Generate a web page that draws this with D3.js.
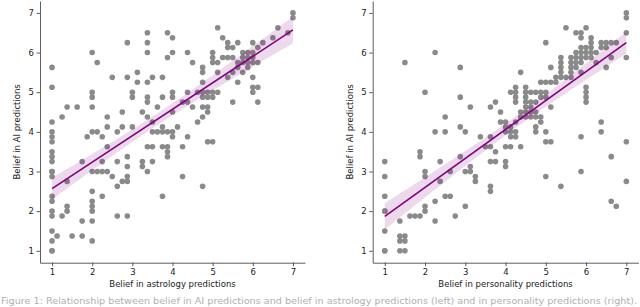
<!DOCTYPE html>
<html>
<head>
<meta charset="utf-8">
<script src="https://cdn.jsdelivr.net/npm/d3@7"></script>
<style>
  body { margin: 0; background: #fff; }
  text { font-family: "DejaVu Sans", sans-serif; }
</style>
</head>
<body>
<svg id="chart" width="640" height="307"></svg>
<script>
// belief in astrology predictions (x) vs belief in AI predictions (y)
const astrologyPoints = [
  [1,5.625],[1,5.125],[1,4.25],[1,4],[1,3.875],[1,3.75],[1,3.5],[1,3.375],[1,3.25],[1,3],[1,3],[1,2.875],[1,2.375],[1,2.25],[1,2],[1,1.875],[1,1.5],[1,1.25],[1,1],[1,1],
  [1.125,1.375],[1.25,4.375],[1.25,1.875],[1.375,4.625],[1.375,2.75],[1.375,2.125],[1.375,2],[1.5,1.375],[1.625,4.625],[1.75,3.25],[1.75,1.75],[1.75,1.375],[1.875,3.875],
  [2,6],[2,5],[2,4.875],[2,4.625],[2,4],[2,3],[2,2.5],[2,2.25],[2,2.125],[2,2],[2,1.75],[2,1.25],
  [2.125,5.75],[2.125,4],[2.125,3],[2.25,3.875],[2.25,3.25],[2.25,3],[2.25,2.375],[2.375,4.375],[2.375,4.125],[2.375,3.625],[2.375,3],
  [2.5,5.375],[2.5,2.875],[2.625,4],[2.625,3.25],[2.625,2.625],[2.625,1.875],[2.75,4.5],[2.75,4.125],[2.75,2.75],
  [2.875,6.25],[2.875,5.375],[2.875,3.375],[2.875,3.125],[2.875,2.875],[2.875,2.75],[2.875,1.875],
  [3,5],[3,4.875],[3,4.125],[3.125,5.5],[3.125,5.25],[3.25,4.5],[3.25,3.25],[3.25,3.125],
  [3.375,6.5],[3.375,6.25],[3.375,6],[3.375,5.25],[3.375,4.875],[3.375,4.75],[3.375,4.375],[3.375,3.625],[3.375,3],
  [3.5,5.375],[3.5,4.25],[3.5,4],[3.5,3.625],[3.5,3.25],[3.625,4.625],[3.625,4],
  [3.75,5.375],[3.75,4.875],[3.75,4.125],[3.75,4],[3.75,3.625],[3.75,2.375],
  [3.875,6.5],[3.875,5.875],[3.875,4],[3.875,3.625],[3.875,3.5],[3.875,3.375],
  [4,6.375],[4,6],[4,5],[4,4.875],[4,4.5],[4,4],[4,3.875],[4.125,4.125],
  [4.25,4.75],[4.25,3.625],[4.25,2.875],[4.375,6],[4.375,5],[4.375,4.75],[4.375,3.875],[4.5,5.75],[4.5,4.625],[4.625,5],[4.625,4.25],
  [4.75,5.625],[4.75,5.5],[4.75,5.25],[4.75,5],[4.75,4.875],[4.75,4.625],[4.75,4.375],[4.75,2.625],
  [4.875,5],[4.875,4.875],[4.875,4.625],[4.875,4.5],[4.875,3.75],
  [5,6],[5,5.875],[5,5.75],[5,5],[5,4.875],[5,3.75],
  [5.125,6.625],[5.125,5.75],[5.125,5.5],[5.125,5],[5.25,6.375],[5.25,5.875],
  [5.375,6.25],[5.375,6.125],[5.375,5.875],[5.375,5.375],[5.5,6.125],[5.5,5.875],[5.5,5.5],[5.5,4.75],
  [5.625,6.25],[5.625,5.75],[5.625,5.625],[5.625,5.25],[5.75,6],[5.75,5.875],[5.75,5.75],[5.75,5.5],
  [5.875,6],[5.875,5.875],[5.875,5.75],[5.875,5.625],
  [6,6.25],[6,6],[6,5.875],[6,5.75],[6,5.375],[6,5.125],[6,5],[6.125,6.125],[6.125,5.75],[6.125,5.125],[6.125,4.75],
  [6.25,6.25],[6.5,6.375],[6.625,6.625],[6.875,6.5],[7,7],[7,6.875]
];

// belief in personality predictions (x) vs belief in AI predictions (y)
const personalityPoints = [
  [1,3.25],[1,2.875],[1,2.375],[1,2],[1,2],[1,1.5],[1,1],[1,1],
  [1.375,1.75],[1.375,1.375],[1.375,1.25],[1.375,1],[1.5,5.75],[1.5,1.375],[1.5,1.25],[1.5,1],
  [1.625,1.875],[1.75,1.875],[1.875,3.5],[1.875,3.375],[1.875,1.875],
  [2,5],[2,3],[2,2.875],[2,2.125],[2,2],[2.25,6],[2.25,4],[2.25,2.25],[2.25,1.75],
  [2.375,3.25],[2.375,2.75],[2.5,4.375],[2.5,4],[2.5,2.375],[2.625,3],[2.625,2.375],[2.75,1.875],
  [2.875,5.625],[2.875,4.875],[2.875,4.125],[2.875,3.375],[3,4],[3,3],[3,2.125],[3.125,4.625],[3.125,3.125],[3.125,3],
  [3.25,2.875],[3.25,2.75],[3.375,3.875],[3.5,3.625],
  [3.625,4.625],[3.625,3.875],[3.625,3.625],[3.625,3.25],[3.625,2.625],[3.625,2.5],[3.75,4.75],[3.75,3.5],[3.75,3.25],[3.875,4.5],[3.875,4.25],
  [4,4.25],[4,4.125],[4,4],[4,3.625],[4,3.25],[4,3.125],[4.125,5],[4.125,4.125],[4.125,4],[4.125,3.875],[4.125,3.625],
  [4.25,5.125],[4.25,5],[4.25,4.875],[4.25,4.75],[4.25,4.25],[4.25,4],[4.25,3.875],[4.375,5.5],[4.375,4.5],[4.375,4.375],[4.375,3.625],
  [4.5,5.125],[4.5,5],[4.5,4.875],[4.5,4.75],[4.5,4.625],[4.5,4.5],[4.5,4.375],[4.625,5],[4.625,4.75],[4.625,4.625],[4.625,4.5],[4.625,4.375],
  [4.75,5],[4.75,4.75],[4.75,4.5],[4.75,4.375],[4.75,4.125],[4.75,4],[4.875,5.25],[4.875,5],[4.875,4.875],[4.875,4.375],[4.875,4.25],
  [5,6.25],[5,5.25],[5,5],[5,4.875],[5,4],[5,3.75],[5,2.875],[5.125,5.625],[5.125,5.25],[5.125,4.625],[5.125,3.75],
  [5.25,5.375],[5.25,5.25],[5.375,5.875],[5.375,5.75],[5.375,5.625],[5.375,5.5],[5.375,5.375],[5.375,2.625],[5.5,6.625],[5.5,5.375],
  [5.625,5.875],[5.625,5.75],[5.625,5.625],[5.625,5.5],[5.625,5.375],[5.75,6.5],[5.75,6],[5.75,5.875],[5.75,5.75],[5.75,5.625],
  [5.875,6.5],[5.875,6.375],[5.875,6.125],[5.875,6],[5.875,5.875],[5.875,5.75],[5.875,5.5],[5.875,3.875],[5.875,3],
  [6,6.625],[6,6.125],[6,6],[6,5.875],[6,5.125],[6,5],[6,4.875],[6,4.75],[6.125,6.375],[6.125,6.25],[6.125,6.125],[6.125,6],[6.125,5.875],
  [6.25,6],[6.25,5.75],[6.375,6.25],[6.375,6.125],[6.375,4.25],[6.375,4],[6.5,6.25],[6.5,6.125],[6.5,5.625],
  [6.625,6.25],[6.625,5.875],[6.625,3.375],[6.625,2.25],[6.75,6.25],[6.75,2.125],
  [7,7],[7,6.875],[7,6.5],[7,5.875],[7,3.75],[7,2.75]
];

// fitted AI belief at x = 1 and x = 7
const fitX = [1, 7];
const astrologyFit = [2.57, 6.57];
const personalityFit = [1.87, 6.25];

const tickValues = [1, 2, 3, 4, 5, 6, 7];
const xLabels = ["Belief in astrology predictions", "Belief in personality predictions"];
const yLabel = "Belief in AI predictions";
const caption = "Figure 1: Relationship between belief in AI predictions and belief in astrology predictions (left) and in personality predictions (right).";

const frame = { top: 1, bottom: 262.7, domain: [0.7, 7.3] };
const panels = [
  { points: astrologyPoints, fit: astrologyFit, xLabel: xLabels[0], left: 40, right: 305 },
  { points: personalityPoints, fit: personalityFit, xLabel: xLabels[1], left: 372.7, right: 638.4 }
];

const svg = d3.select("#chart");

// 95% confidence band around the fit line, spread taken from the points
function band(points, fit) {
  const slope = (fit[1] - fit[0]) / (fitX[1] - fitX[0]);
  const intercept = fit[0] - slope * fitX[0];
  const n = points.length;
  const mx = d3.mean(points, d => d[0]);
  const sxx = d3.sum(points, d => (d[0] - mx) ** 2);
  const sse = d3.sum(points, d => (d[1] - (intercept + slope * d[0])) ** 2);
  const s = Math.sqrt(sse / (n - 2));
  return d3.range(0, 61).map(i => {
    const xv = fitX[0] + i * (fitX[1] - fitX[0]) / 60;
    const yhat = intercept + slope * xv;
    const half = 1.97 * s * Math.sqrt(1 / n + (xv - mx) ** 2 / sxx);
    return { x: xv, lo: yhat - half, hi: yhat + half };
  });
}

panels.forEach(p => {
  const x = d3.scaleLinear().domain(frame.domain).range([p.left, p.right]);
  const y = d3.scaleLinear().domain(frame.domain).range([frame.bottom, frame.top]);
  const g = svg.append("g");

  // scatter
  g.append("g").selectAll("circle")
    .data(p.points)
    .join("circle")
    .attr("cx", d => x(d[0]))
    .attr("cy", d => y(d[1]))
    .attr("r", 2.8)
    .style("fill", "#8a8a8a");

  g.append("path")
    .datum(band(p.points, p.fit))
    .attr("d", d3.area().x(d => x(d.x)).y0(d => y(d.lo)).y1(d => y(d.hi)))
    .style("fill", "purple")
    .style("opacity", 0.15);

  g.append("path")
    .datum(fitX.map((v, i) => [v, p.fit[i]]))
    .attr("d", d3.line().x(d => x(d[0])).y(d => y(d[1])))
    .style("fill", "none")
    .style("stroke", "purple")
    .style("stroke-width", 1.6);

  // axes (left + bottom spines only)
  const xAxis = g.append("g")
    .attr("transform", `translate(0, ${frame.bottom})`)
    .call(d3.axisBottom(x).tickValues(tickValues).tickFormat(d3.format("d")).tickSize(3.5).tickPadding(2.5).tickSizeOuter(0));
  const yAxis = g.append("g")
    .attr("transform", `translate(${p.left}, 0)`)
    .call(d3.axisLeft(y).tickValues(tickValues).tickFormat(d3.format("d")).tickSize(3.5).tickPadding(2.5).tickSizeOuter(0));

  [xAxis, yAxis].forEach(a => {
    a.select(".domain").style("stroke", "#333").style("stroke-width", 0.8);
    a.selectAll(".tick line").style("stroke", "#333").style("stroke-width", 0.8);
    a.selectAll(".tick text")
      .style("font-family", "DejaVu Sans, sans-serif")
      .style("font-size", "8.5px")
      .style("fill", "#1a1a1a");
  });

  // x axis label
  g.append("text").text(p.xLabel)
    .attr("x", (p.left + p.right) / 2)
    .attr("y", 286.5)
    .attr("text-anchor", "middle")
    .style("font-size", "8.5px")
    .style("fill", "#1a1a1a");

  // y axis label
  g.append("text").text(yLabel)
    .attr("transform", `translate(${p.left - 20}, ${(frame.top + frame.bottom) / 2}) rotate(-90)`)
    .attr("text-anchor", "middle")
    .style("font-size", "8.5px")
    .style("fill", "#1a1a1a");
});

// caption along the bottom edge
svg.append("text").text(caption)
  .attr("x", 1)
  .attr("y", 303.8)
  .attr("textLength", 636)
  .attr("lengthAdjust", "spacingAndGlyphs")
  .style("font-size", "9.5px")
  .style("fill", "#b0b0b0");
</script>
</body>
</html>
